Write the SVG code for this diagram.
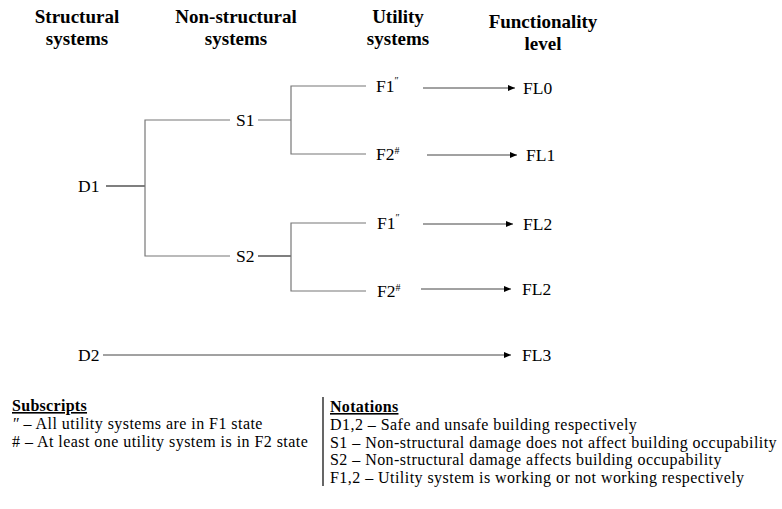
<svg xmlns="http://www.w3.org/2000/svg" width="782" height="509" viewBox="0 0 782 509">
<style>
text{font-family:"Liberation Serif","Times New Roman",serif;fill:#000}
.h{font-size:19px;font-weight:bold;text-anchor:middle}
.n{font-size:17.5px}
.sup{font-size:10px}
.t{font-size:16px;letter-spacing:0.45px}
.tb{font-size:16px;font-weight:bold;text-decoration:underline;letter-spacing:0.3px}
.g{stroke:#777;stroke-width:1.2;fill:none}
.k{stroke:#000;stroke-width:1.2;fill:none}
.a{stroke:#444;stroke-width:1;fill:none;marker-end:url(#arr)}
</style>
<defs>
<marker id="arr" markerWidth="8" markerHeight="8" refX="7" refY="4" orient="auto" markerUnits="userSpaceOnUse">
<path d="M0,1 L7,4 L0,7 Z" fill="#000"/>
</marker>
</defs>
<g id="headers">
<text class="h" x="77" y="23">Structural</text><text class="h" x="77" y="45">systems</text>
<text class="h" x="236" y="23">Non-structural</text><text class="h" x="236" y="45">systems</text>
<text class="h" x="398" y="23">Utility</text><text class="h" x="398" y="45">systems</text>
<text class="h" x="543" y="28">Functionality</text><text class="h" x="543" y="50">level</text>
</g>
<g id="connectors">
<path class="k" d="M106,186 H145"/>
<path class="g" d="M230,120 H145 V256 H230"/>
<path class="g" d="M258,120 H291"/>
<path class="k" d="M258,256 H291"/>
<path class="g" d="M366,86 H291 V154 H366"/>
<path class="g" d="M366,223 H291 V291 H366"/>
<path class="a" d="M423,88 H515"/>
<path class="a" d="M427,155 H517"/>
<path class="a" d="M423,224 H513"/>
<path class="a" d="M421,289 H511"/>
<path class="a" d="M103,355 H511"/>
</g>
<g id="D1"><text class="n" x="78" y="192">D1</text></g>
<g id="S1"><text class="n" x="236" y="126">S1</text></g>
<g id="S2"><text class="n" x="236" y="262">S2</text></g>
<g id="F1a"><text class="n" x="376" y="92">F1<tspan class="sup" dy="-8">″</tspan></text></g>
<g id="F2a"><text class="n" x="376" y="160">F2<tspan class="sup" dy="-6">#</tspan></text></g>
<g id="F1b"><text class="n" x="377" y="229">F1<tspan class="sup" dy="-8">″</tspan></text></g>
<g id="F2b"><text class="n" x="377" y="297">F2<tspan class="sup" dy="-6">#</tspan></text></g>
<g id="FL0"><text class="n" x="523" y="94">FL0</text></g>
<g id="FL1"><text class="n" x="526" y="161">FL1</text></g>
<g id="FL2a"><text class="n" x="523" y="230">FL2</text></g>
<g id="FL2b"><text class="n" x="522" y="295">FL2</text></g>
<g id="D2"><text class="n" x="78" y="361">D2</text></g>
<g id="FL3"><text class="n" x="522" y="361">FL3</text></g>
<g id="subscripts">
<text class="tb" x="12" y="411">Subscripts</text>
<text class="t" x="12" y="429"><tspan font-style="italic">″</tspan> – All utility systems are in F1 state</text>
<text class="t" x="12" y="447"># – At least one utility system is in F2 state</text>
</g>
<g id="notations">
<path d="M323,397 V486" stroke="#000" stroke-width="1.2"/>
<text class="tb" x="330" y="412">Notations</text>
<text class="t" x="330" y="429.8">D1,2 – Safe and unsafe building respectively</text>
<text class="t" x="330" y="447.6">S1 – Non-structural damage does not affect building occupability</text>
<text class="t" x="330" y="465.4">S2 – Non-structural damage affects building occupability</text>
<text class="t" x="330" y="483.2">F1,2 – Utility system is working or not working respectively</text>
</g>
</svg>
